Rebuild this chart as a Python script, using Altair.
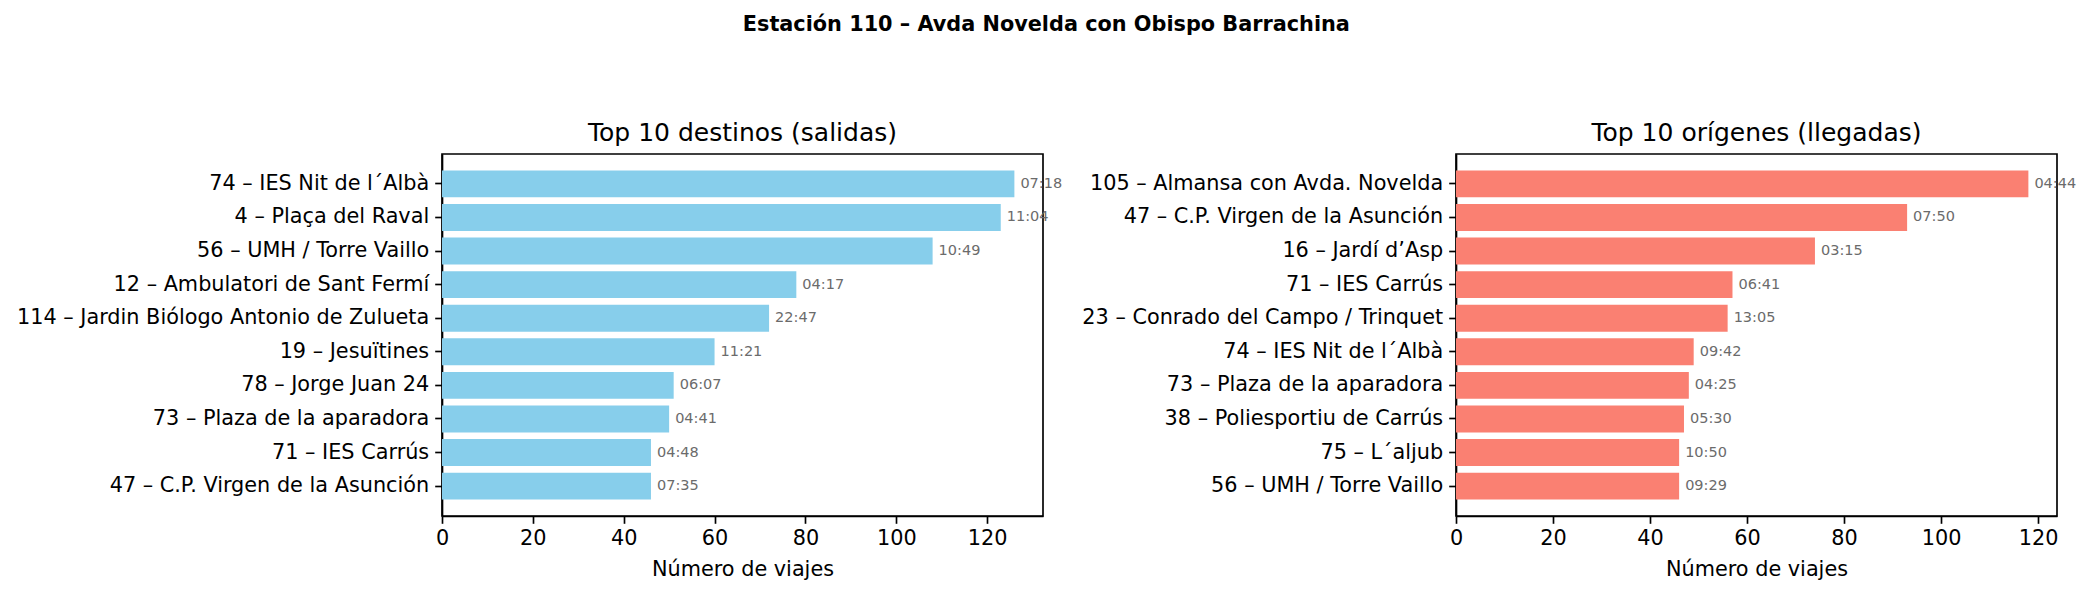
import altair as alt
import pandas as pd

suptitle = "Estación 110 – Avda Novelda con Obispo Barrachina"

dest_labels = [
    "74 – IES Nit de l´Albà",
    "4 – Plaça del Raval",
    "56 – UMH / Torre Vaillo",
    "12 – Ambulatori de Sant Fermí",
    "114 – Jardin Biólogo Antonio de Zulueta",
    "19 – Jesuïtines",
    "78 – Jorge Juan 24",
    "73 – Plaza de la aparadora",
    "71 – IES Carrús",
    "47 – C.P. Virgen de la Asunción",
]
dest_values = [126, 123, 108, 78, 72, 60, 51, 50, 46, 46]
dest_times = ["07:18", "11:04", "10:49", "04:17", "22:47", "11:21", "06:07", "04:41", "04:48", "07:35"]

orig_labels = [
    "105 – Almansa con Avda. Novelda",
    "47 – C.P. Virgen de la Asunción",
    "16 – Jardí d’Asp",
    "71 – IES Carrús",
    "23 – Conrado del Campo / Trinquet",
    "74 – IES Nit de l´Albà",
    "73 – Plaza de la aparadora",
    "38 – Poliesportiu de Carrús",
    "75 – L´aljub",
    "56 – UMH / Torre Vaillo",
]
orig_values = [118, 93, 74, 57, 56, 49, 48, 47, 46, 46]
orig_times = ["04:44", "07:50", "03:15", "06:41", "13:05", "09:42", "04:25", "05:30", "10:50", "09:29"]

x_ticks = [0, 20, 40, 60, 80, 100, 120]

FONT = "DejaVu Sans"
TICK = 20.8
LW = 1.67


def panel(labels, values, times, color, title):
    df = pd.DataFrame({"estacion": labels, "viajes": values, "tiempo": times})
    xmax = max(values) * 1.05
    x = alt.X(
        "viajes:Q",
        scale=alt.Scale(domain=[0, xmax], nice=False, zero=True),
        axis=alt.Axis(
            values=x_ticks,
            title="Número de viajes",
            grid=False,
            labelFontSize=TICK,
            titleFontSize=TICK,
            titleFontWeight="normal",
            labelColor="#000000",
            titleColor="#000000",
            tickSize=7.3,
            tickWidth=LW,
            tickColor="#000000",
            domainColor="#000000",
            domainWidth=LW,
            labelPadding=5,
            titlePadding=11,
            labelFlush=False,
        ),
    )
    y = alt.Y(
        "estacion:N",
        sort=labels,
        scale=alt.Scale(paddingInner=0.2, paddingOuter=0.49),
        axis=alt.Axis(
            title=None,
            grid=False,
            labelFontSize=TICK,
            labelColor="#000000",
            labelLimit=1000,
            tickSize=7.3,
            tickWidth=LW,
            tickColor="#000000",
            domainColor="#000000",
            domainWidth=LW,
            labelPadding=6,
        ),
    )
    base = alt.Chart(df)
    bars = base.mark_bar(color=color).encode(x=x, y=y)
    txt = base.mark_text(
        align="left", baseline="middle", dx=6, fontSize=14.5, color="#6b6b6b", font=FONT
    ).encode(x="viajes:Q", y=alt.Y("estacion:N", sort=labels), text="tiempo:N")
    return (bars + txt).properties(
        width=601,
        height=362,
        title=alt.TitleParams(
            text=title,
            fontSize=25,
            fontWeight="normal",
            font=FONT,
            color="#000000",
            anchor="middle",
            baseline="alphabetic",
            offset=-12,
        ),
    )


left = panel(dest_labels, dest_values, dest_times, "#87CEEB", "Top 10 destinos (salidas)")
right = panel(orig_labels, orig_values, orig_times, "#FA8072", "Top 10 orígenes (llegadas)")

chart = (
    alt.hconcat(left, right, spacing=413, bounds="flush")
    .properties(
        title=alt.TitleParams(
            text=suptitle,
            fontSize=20.8,
            fontWeight="bold",
            font=FONT,
            color="#000000",
            anchor="middle",
            baseline="alphabetic",
            offset=68,
        ),
        padding={"left": 15, "top": 14, "right": 5, "bottom": 5},
    )
    .configure(font=FONT)
    .configure_view(stroke="#000000", strokeWidth=LW)
    .configure_axis(labelFont=FONT, titleFont=FONT)
)

chart.save("out.html", embed_options={"renderer": "svg", "actions": False})
